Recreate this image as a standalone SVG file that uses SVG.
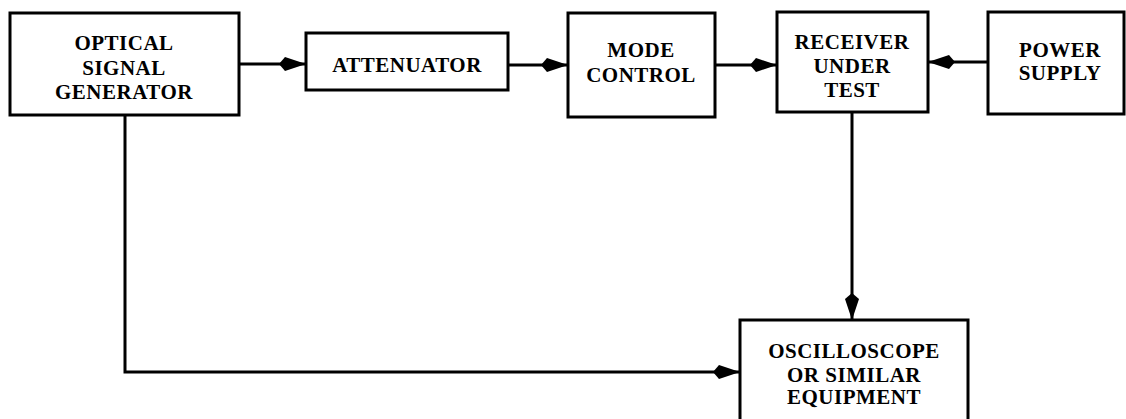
<svg xmlns="http://www.w3.org/2000/svg" width="1126" height="419" viewBox="0 0 1126 419">
  <defs>
    <style>
      .box { fill: #fff; stroke: #000; stroke-width: 3; }
      .conn { fill: none; stroke: #000; stroke-width: 3; }
      .lbl { font-family: "Liberation Serif", "DejaVu Serif", serif; font-weight: bold; font-size: 21px; text-anchor: middle; fill: #000; letter-spacing: 0.5px; }
    </style>
    <marker id="arr" markerUnits="userSpaceOnUse" markerWidth="30" markerHeight="18" viewBox="-28 -9 30 18" refX="0" refY="0" orient="auto">
      <path d="M0,0 L-21,-7 L-27,0 L-21,7 Z" fill="#000"/>
    </marker>
  </defs>
  <rect width="1126" height="419" fill="#fff"/>

  <g id="connectors">
    <line class="conn" x1="240" y1="64" x2="306" y2="64" marker-end="url(#arr)"/>
    <line class="conn" x1="508" y1="65" x2="568" y2="65" marker-end="url(#arr)"/>
    <line class="conn" x1="715" y1="65" x2="777" y2="65" marker-end="url(#arr)"/>
    <line class="conn" x1="988" y1="62" x2="928" y2="62" marker-end="url(#arr)"/>
    <line class="conn" x1="852" y1="112" x2="852" y2="320" marker-end="url(#arr)"/>
    <polyline class="conn" points="125,116 125,372 740,372" marker-end="url(#arr)"/>
  </g>

  <g id="optical-signal-generator">
    <rect class="box" x="10" y="13" width="229" height="102"/>
    <text class="lbl" x="124" y="50">OPTICAL</text>
    <text class="lbl" x="124" y="75">SIGNAL</text>
    <text class="lbl" x="124" y="99">GENERATOR</text>
  </g>

  <g id="attenuator">
    <rect class="box" x="306" y="33" width="202" height="57"/>
    <text class="lbl" x="407" y="72">ATTENUATOR</text>
  </g>

  <g id="mode-control">
    <rect class="box" x="568" y="13" width="147" height="104"/>
    <text class="lbl" x="641" y="57">MODE</text>
    <text class="lbl" x="641" y="82">CONTROL</text>
  </g>

  <g id="receiver-under-test">
    <rect class="box" x="777" y="12" width="151" height="100"/>
    <text class="lbl" x="852" y="49">RECEIVER</text>
    <text class="lbl" x="852" y="73">UNDER</text>
    <text class="lbl" x="852" y="97">TEST</text>
  </g>

  <g id="power-supply">
    <rect class="box" x="988" y="12" width="136" height="102"/>
    <text class="lbl" x="1060" y="57">POWER</text>
    <text class="lbl" x="1060" y="80">SUPPLY</text>
  </g>

  <g id="oscilloscope">
    <rect class="box" x="740" y="320" width="228" height="110"/>
    <text class="lbl" x="854" y="358">OSCILLOSCOPE</text>
    <text class="lbl" x="854" y="382">OR SIMILAR</text>
    <text class="lbl" x="854" y="404">EQUIPMENT</text>
  </g>
</svg>
